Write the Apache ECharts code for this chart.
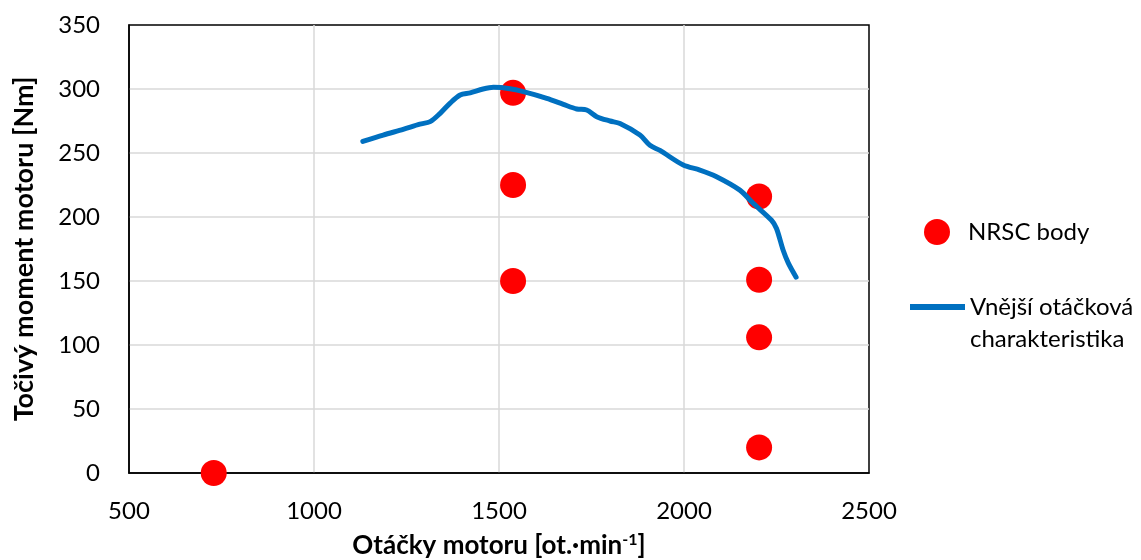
<!DOCTYPE html>
<html>
<head>
<meta charset="utf-8">
<script src="https://cdn.jsdelivr.net/npm/echarts@6/dist/echarts.min.js"></script>
<style>
  html, body { margin: 0; padding: 0; background: #fff; }
  #chart { width: 1141px; height: 560px; }
</style>
</head>
<body>
<div id="chart"></div>
<script>
// NRSC body (otacky, moment)
var nrscRpm = [729, 1538, 1538, 1538, 2203, 2203, 2203, 2203];
var nrscTorque = [0, 297, 225, 150, 216, 151, 106, 20];

// vnejsi otackova charakteristika
var curveRpm = [1132, 1187, 1241, 1286, 1314, 1341, 1368, 1395, 1422, 1457, 1485, 1530, 1566, 1629, 1674, 1710, 1737, 1764, 1800, 1827, 1881, 1908, 1935, 1998, 2043, 2088, 2151, 2187, 2236, 2250, 2268, 2282, 2303];
var curveTorque = [259, 264, 268.5, 272.5, 274.5, 281, 289, 295.3, 297, 300, 301.3, 300.2, 297.9, 292.7, 288, 284.4, 283.6, 278.4, 275, 273, 264, 256, 252, 240.6, 236.7, 231.5, 221, 210.7, 197.6, 191, 174, 164, 153];

var xTicks = [500, 2500, 500];   // min, max, interval
var yTicks = [0, 350, 50];

var FONT = 'Lato, "Open Sans", sans-serif';
var nrscName = 'NRSC body';
var curveName = 'Vnější otáčková charakteristika';

var myChart = echarts.init(document.getElementById('chart'));
var option = {
    animation: false,
    textStyle: { fontFamily: FONT },
    grid: {
        left: 129, top: 25, right: 272, bottom: 87,
        outerBoundsMode: 'none',
        show: true, borderColor: '#000', borderWidth: 1.5
    },
    legend: [{
        data: [{ name: nrscName, icon: 'circle' }],
        left: 924, top: 219, orient: 'vertical', padding: 0,
        itemWidth: 26, itemHeight: 26,
        textStyle: { fontFamily: FONT, fontSize: 24, color: '#000', padding: [0, 0, 0, 13] }
    }, {
        data: [{ name: curveName, icon: 'rect' }],
        left: 910, top: 259, orient: 'vertical', padding: 0,
        itemWidth: 55, itemHeight: 6,
        // prazdny prvni radek, aby ikona stala u prvniho radku textu
        formatter: function () { return ' \nVnější otáčková\ncharakteristika'; },
        textStyle: { fontFamily: FONT, fontSize: 24, color: '#000', lineHeight: 32 }
    }],
    xAxis: {
        type: 'value', min: xTicks[0], max: xTicks[1], interval: xTicks[2],
        axisLine: { show: true, lineStyle: { color: '#000', width: 1.5 } },
        axisTick: { show: false },
        axisLabel: { fontFamily: FONT, fontSize: 24, color: '#000', margin: 26,
            formatter: function (v) { return String(v); } },
        splitLine: { showMinLine: false, showMaxLine: false, lineStyle: { color: '#d9d9d9', width: 1.5 } },
        name: '{a|Otáčky motoru [ot.·min}{s|-1}{a|]}',
        nameLocation: 'middle', nameGap: 59,
        nameTextStyle: {
            rich: {
                a: { fontFamily: FONT, fontSize: 26, fontWeight: 'bold', color: '#000' },
                s: { fontFamily: FONT, fontSize: 16, fontWeight: 'bold', color: '#000', padding: [0, 0, 12, 0] }
            }
        }
    },
    yAxis: {
        type: 'value', min: yTicks[0], max: yTicks[1], interval: yTicks[2],
        axisLine: { show: true, lineStyle: { color: '#000', width: 1.5 } },
        axisTick: { show: false },
        axisLabel: { fontFamily: FONT, fontSize: 24, color: '#000', margin: 29 },
        splitLine: { showMinLine: false, showMaxLine: false, lineStyle: { color: '#d9d9d9', width: 1.5 } },
        name: 'Točivý moment motoru [Nm]',
        nameLocation: 'middle', nameGap: 91, nameRotate: 90,
        nameTextStyle: { fontFamily: FONT, fontSize: 27, fontWeight: 'bold', color: '#000' }
    },
    series: [{
        name: nrscName,
        type: 'scatter',
        symbolSize: 26,
        itemStyle: { color: '#ff0000', opacity: 1 },
        data: nrscRpm.map(function (r, i) { return [r, nrscTorque[i]]; }),
        z: 3
    }, {
        name: curveName,
        type: 'line',
        showSymbol: false,
        symbol: 'none',
        smooth: 0.3,
        lineStyle: { color: '#0070c0', width: 5, cap: 'round', join: 'round' },
        itemStyle: { color: '#0070c0' },
        data: curveRpm.map(function (r, i) { return [r, curveTorque[i]]; }),
        z: 4
    }]
};
myChart.setOption(option);
</script>
</body>
</html>
